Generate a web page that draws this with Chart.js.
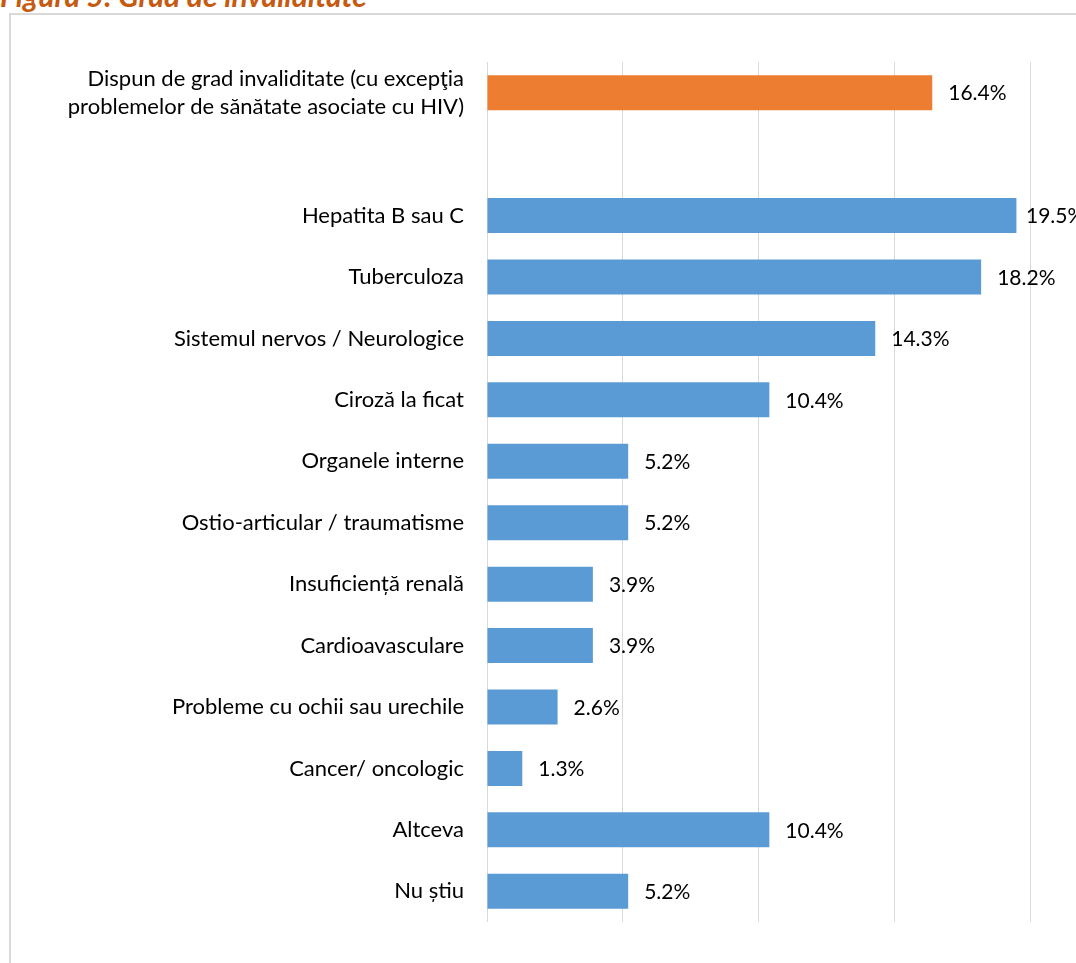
<!DOCTYPE html>
<html>
<head>
<meta charset="utf-8">
<script src="https://cdn.jsdelivr.net/npm/chart.js@4"></script>
<style>
  body { margin: 0; background: #fff; overflow: hidden; }
  .title { position: absolute; left: 0; top: -20px; font: italic bold 30px Lato, sans-serif; line-height: 30px; color: #C55A11; white-space: nowrap; }
  .frame { position: absolute; left: 9px; top: 13px; width: 1200px; height: 1100px; border: 2px solid #d9d9d9; box-sizing: border-box; }
  #wrap { position: absolute; left: 0; top: 0; width: 1076px; height: 963px; }
</style>
</head>
<body>
<div class="title">Figura 5: Grad de invaliditate</div>
<div class="frame"></div>
<div id="wrap"><canvas id="chart"></canvas></div>
<script>
// Categories (empty one keeps the gap under the first bar)
const categories = [
  ['Dispun de grad invaliditate (cu excepţia', 'problemelor de sănătate asociate cu HIV)'],
  '',
  'Hepatita B sau C',
  'Tuberculoza',
  'Sistemul nervos / Neurologice',
  'Ciroză la ficat',
  'Organele interne',
  'Ostio-articular / traumatisme',
  'Insuficiență renală',
  'Cardioavasculare',
  'Probleme cu ochii sau urechile',
  'Cancer/ oncologic',
  'Altceva',
  'Nu știu'
];
const values = [16.4, null, 19.5, 18.2, 14.3, 10.4, 5.2, 5.2, 3.9, 3.9, 2.6, 1.3, 10.4, 5.2];
const xTicks = [0, 5, 10, 15, 20];

const barColors = values.map((v, i) => i === 0 ? '#ED7D31' : '#5B9BD5');
const FONT = 'Lato, sans-serif';

// value labels to the right of each bar (kept inside the plot like Excel does)
const valueLabels = {
  id: 'valueLabels',
  afterDatasetsDraw(chart) {
    const ctx = chart.ctx;
    const meta = chart.getDatasetMeta(0);
    const maxX = chart.chartArea.right - 4;
    ctx.save();
    ctx.font = '21px ' + FONT;
    ctx.fillStyle = '#000';
    ctx.textBaseline = 'middle';
    ctx.textAlign = 'left';
    meta.data.forEach((bar, i) => {
      if (values[i] == null) return;
      ctx.fillText(values[i].toFixed(1) + '%', Math.min(bar.x + 16, maxX), bar.y + 1);
    });
    ctx.restore();
  }
};

const ctx = document.getElementById('chart').getContext('2d');
new Chart(ctx, {
  type: 'bar',
  data: {
    labels: categories,
    datasets: [{
      data: values,
      backgroundColor: barColors,
      borderWidth: 0,
      categoryPercentage: 1,
      barPercentage: 0.57
    }]
  },
  options: {
    indexAxis: 'y',
    responsive: true,
    maintainAspectRatio: false,
    animation: false,
    layout: { padding: { left: 0, right: 46, top: 62, bottom: 41 } },
    plugins: {
      legend: { display: false },
      tooltip: { enabled: false }
    },
    scales: {
      x: {
        min: 0,
        max: 20,
        afterBuildTicks(scale) { scale.ticks = xTicks.map(v => ({ value: v })); },
        afterFit(scale) { scale.height = 0; },
        ticks: { display: false },
        grid: { color: '#d9d9d9', lineWidth: 1, drawTicks: false },
        border: { display: false }
      },
      y: {
        afterFit(scale) {
          scale.width = 487;
          scale.paddingTop = 0;
          scale.paddingBottom = 0;
        },
        ticks: { color: '#000', font: { family: FONT, size: 22, lineHeight: 1.27 }, padding: 23, autoSkip: false },
        grid: { display: false, drawTicks: false },
        border: { display: false }
      }
    }
  },
  plugins: [valueLabels]
});
</script>
</body>
</html>
